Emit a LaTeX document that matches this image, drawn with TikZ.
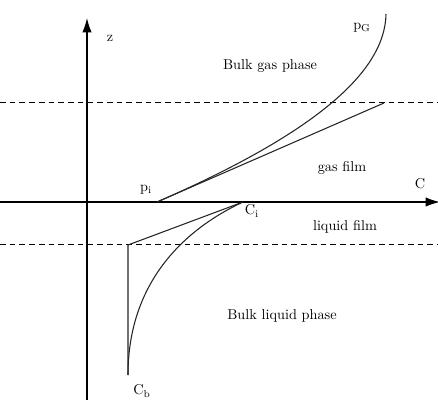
\documentclass[tikz,border=0pt]{standalone}
\usetikzlibrary{arrows.meta}
\begin{document}
\begin{tikzpicture}[x=0.7pt,y=-0.7pt,
  axis/.style={line width=0.9pt,-{Latex[length=10pt,width=6.5pt]}},
  curve/.style={line width=0.75pt,black!85},
  bound/.style={line width=0.7pt,dash pattern=on 4pt off 2.8pt},
  lbl/.style={inner sep=0pt}]
\useasboundingbox (0,0) rectangle (438,403);
% axes
\coordinate (zb) at (87,400);
\coordinate (zt) at (87,18);
\coordinate (cl) at (0,202);
\coordinate (cr) at (440,202);
\draw[axis] (zb) -- (zt);
\draw[axis] (cl) -- (cr);
% interfaces
\coordinate (d1l) at (0,103);
\coordinate (d1r) at (438,103);
\coordinate (d2l) at (0,245);
\coordinate (d2r) at (438,245);
\draw[bound] (d1l) -- (d1r);
\draw[bound] (d2l) -- (d2r);
% points
\coordinate (pi) at (157,202);
\coordinate (pend) at (384,103);
\coordinate (pG) at (386,14);
\coordinate (ci) at (243,202);
\coordinate (lc) at (128,245);
\coordinate (cb) at (128,375);
\draw[curve] (pi) -- (pend);
\draw[curve] (pi) .. controls (320,131) and (385,70) .. (pG);
\draw[curve] (ci) -- (lc) -- (cb);
\draw[curve] (ci) .. controls (200,222) and (128,270) .. (cb);
% labels
\node[lbl] (zl) at (110,38) {z};
\node[lbl] (Cl) at (420,184) {C};
\node[lbl] (pil) at (146,190) {p$_{\mathrm{i}}$};
\node[lbl] (pGl) at (362,28) {p$_{\mathrm{G}}$};
\node[lbl] (cil) at (252,211) {C$_{\mathrm{i}}$};
\node[lbl] (cbl) at (142,391) {C$_{\mathrm{b}}$};
\node[lbl] (bg) at (270,66) {Bulk gas phase};
\node[lbl] (gf) at (342,168) {gas film};
\node[lbl] (lf) at (345,227) {liquid film};
\node[lbl] (bl) at (282,316) {Bulk liquid phase};
\end{tikzpicture}
\end{document}
